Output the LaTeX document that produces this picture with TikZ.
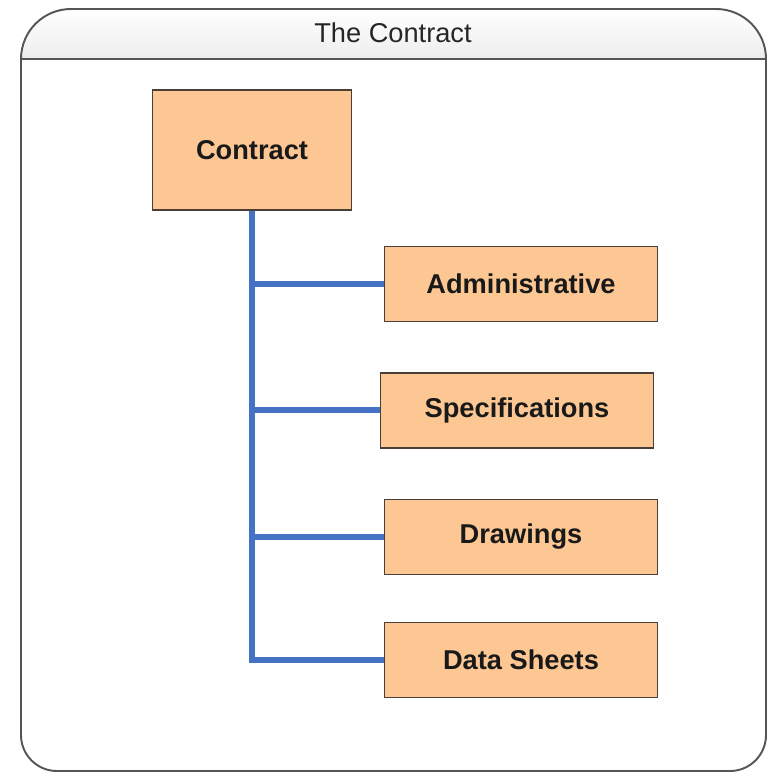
\documentclass[tikz,border=0pt]{standalone}
\usepackage{fontspec}
\setmainfont{Liberation Sans}
\usetikzlibrary{positioning}
\definecolor{boxfill}{HTML}{FCC793}
\definecolor{boxline}{HTML}{4A3F38}
\definecolor{linkblue}{HTML}{4472C4}
\definecolor{framegray}{HTML}{555555}

\begin{document}
\begin{tikzpicture}[
    x=0.02cm, y=-0.02cm,
    node distance=1cm,
    box/.style={draw=boxline, fill=boxfill, line width=0.8pt, text=black!90, font=\fontsize{15.5}{18}\selectfont\bfseries},
    topbox/.style={box, minimum width=3.98cm, minimum height=2.4cm},
    subbox/.style={box, minimum width=5.46cm, minimum height=1.5cm},
    link/.style={draw=linkblue, line width=3.4pt},
    frame/.style={draw=framegray, line width=1.1pt}
]
\useasboundingbox (0,0) rectangle (770,773);

% outer frame with its title bar
\begin{scope}
  \clip (21,400) [rounded corners=1cm] -- (21,9) -- (766,9) -- (766,400) -- cycle;
  \fill[top color=white, bottom color=black!7] (21,9) rectangle (766,59);
\end{scope}
\draw[frame] (21,400) [rounded corners=1cm] -- (21,9) -- (766,9) -- (766,400) [rounded corners=0.72cm] -- (766,771) -- (21,771) -- cycle;
\draw[frame, line width=1.4pt] (21,59) -- (766,59);
\node[text=black!85, font=\fontsize{15.5}{18}\selectfont] (title) at (393,33) {The Contract};

\node[topbox] (contract) at (252,150) {Contract};
\node[subbox] (admin) at (521,284) {Administrative};
\node[subbox, below=of admin, xshift=-0.08cm] (spec) {Specifications};
\node[subbox, below=of spec, xshift=0.08cm] (draw) {Drawings};
\node[subbox, below=0.94cm of draw] (data) {Data Sheets};

\draw[link] (contract.south) |- (admin.west);
\draw[link] (contract.south) |- (spec.west);
\draw[link] (contract.south) |- (draw.west);
\draw[link] (contract.south) |- (data.west);
\end{tikzpicture}
\end{document}
